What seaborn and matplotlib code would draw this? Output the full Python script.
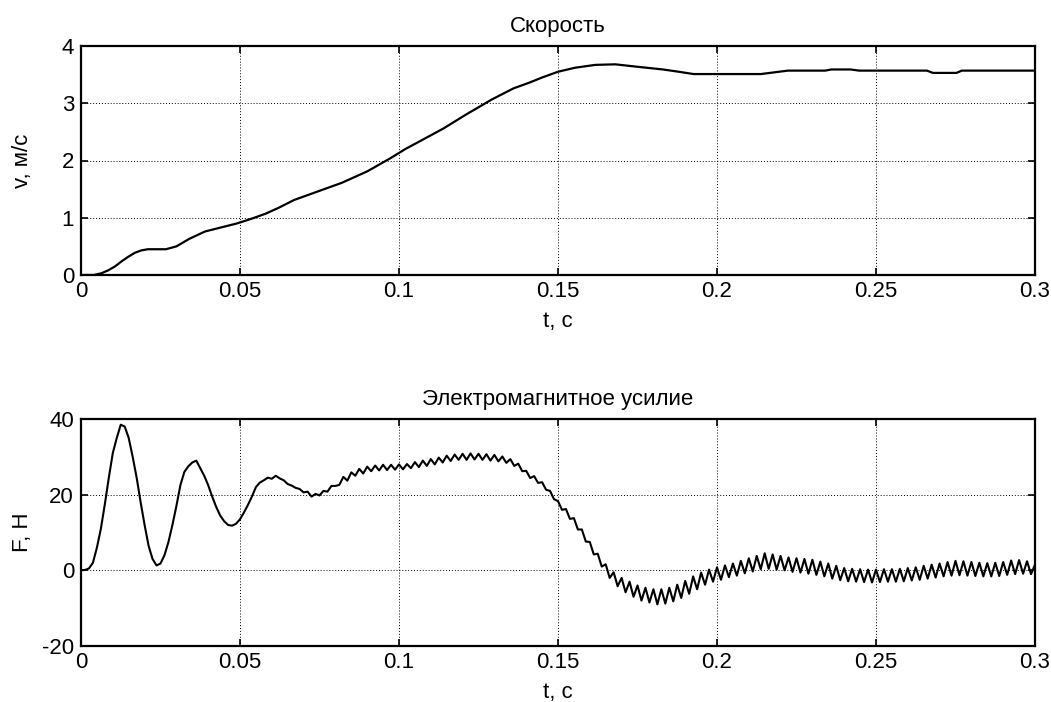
import numpy as np
import pandas as pd
import matplotlib
matplotlib.use("Agg")
import matplotlib.pyplot as plt
import seaborn as sns

# ---------------- data ----------------
t_speed = [0.000, 0.004, 0.0064, 0.0085, 0.0107, 0.0128, 0.0149, 0.017, 0.019, 0.021,
           0.0235, 0.0267, 0.030, 0.034, 0.039, 0.044, 0.049, 0.054, 0.058, 0.062,
           0.067, 0.074, 0.082, 0.090, 0.097, 0.102, 0.108, 0.114, 0.121, 0.129,
           0.136, 0.141, 0.145, 0.150, 0.1553, 0.1617, 0.168, 0.1745, 0.183, 0.188,
           0.1926, 0.200, 0.2138, 0.2223, 0.234, 0.236, 0.242, 0.2447, 0.266, 0.2679,
           0.2753, 0.277, 0.300]
v_speed = [0.00, 0.00, 0.03, 0.08, 0.15, 0.24, 0.32, 0.39, 0.43, 0.45,
           0.45, 0.45, 0.50, 0.63, 0.76, 0.83, 0.90, 0.99, 1.07, 1.17,
           1.31, 1.45, 1.61, 1.81, 2.03, 2.20, 2.38, 2.56, 2.80, 3.06,
           3.26, 3.36, 3.45, 3.55, 3.62, 3.67, 3.68, 3.64, 3.59, 3.55,
           3.51, 3.51, 3.51, 3.57, 3.57, 3.59, 3.59, 3.57, 3.57, 3.53,
           3.53, 3.57, 3.57]

t_step = 0.00125
F_force = [
    0, 0.1, 0.5, 2, 6, 11, 17.5, 24.5, 31, 35,
    38.5, 38, 35, 30, 24.5, 18, 12, 6.5, 3, 1.3,
    1.8, 4, 7.5, 12, 17, 22.5, 26, 27.5, 28.5, 29,
    27, 25, 22.5, 19.5, 16.8, 14.5, 13, 12, 11.8, 12.3,
    13.5, 15.3, 17.3, 19.5, 22, 23.2, 23.8, 24.5, 24.2, 25,
    24.3, 23.8, 22.8, 22.4, 21.8, 21.5, 20.6, 20.8, 19.5, 20.2,
    19.8, 21, 20.8, 22.3, 22.3, 22.6, 24.7, 23.7, 25.9, 25,
    26.8, 25.6, 27.4, 26.2, 27.7, 26.4, 27.9, 26.5, 27.9, 26.6,
    28, 26.7, 28.1, 27, 28.6, 27.3, 29, 27.6, 29.4, 28,
    29.8, 28.5, 30.3, 28.9, 30.6, 29.2, 30.8, 29.2, 30.9, 29.3,
    30.8, 29.2, 30.7, 29, 30.5, 28.8, 30.1, 28.4, 29.4, 27.6,
    28.2, 26.2, 26.3, 24.4, 24.9, 23.1, 23.3, 21.3, 21, 18.8,
    18.3, 16, 16.2, 13.6, 13.8, 10.8, 10.8, 7.6, 7.5, 4.2,
    4.4, 1, 1.6, -2, -0.5, -4.2, -2, -5.8, -3, -7,
    -4, -8, -4.6, -8.5, -5, -9, -5, -8.8, -4.6, -8.2,
    -3.8, -7.3, -2.8, -6.2, -1.6, -5, -0.6, -3.8, 0.2, -3,
    0.8, -2.5, 1.3, -1.8, 1.8, -1.4, 2.5, -0.8, 3.2, -0.3,
    3.8, 0.3, 4.5, 0.4, 4.2, 0.2, 3.8, 0, 3.4, -0.4,
    3.2, -0.6, 3, -0.9, 2.8, -1.2, 2.3, -1.6, 1.8, -2.2,
    1.2, -2.6, 0.6, -2.9, 0.4, -3, 0.3, -3.1, 0.2, -3.2,
    0.2, -3.1, 0.3, -3, 0.3, -3, 0.4, -2.9, 0.6, -2.7,
    0.8, -2.5, 1.2, -2.2, 1.5, -1.9, 1.8, -1.6, 2.2, -1.4,
    2.5, -1.3, 2.4, -1.4, 2.2, -1.5, 2, -1.6, 1.9, -1.6,
    2, -1.5, 2.2, -1.2, 2.6, -1, 2.7, -0.9, 2.4, -1,
    1.5,
]
t_force = np.arange(len(F_force)) * t_step

x_ticks = [0, 0.05, 0.1, 0.15, 0.2, 0.25, 0.3]
x_tick_labels = ["0", "0.05", "0.1", "0.15", "0.2", "0.25", "0.3"]
v_ticks = [0, 1, 2, 3, 4]
F_ticks = [-20, 0, 20, 40]

title_top = "Скорость"
title_bottom = "Электромагнитное усилие"
xlabel = "t, с"
ylabel_top = "v, м/с"
ylabel_bottom = "F, Н"

# ---------------- style ----------------
sns.set_theme(style="ticks")
plt.rcParams["font.family"] = ["Liberation Sans", "DejaVu Sans"]
plt.rcParams.update({
    "axes.edgecolor": "black",
    "axes.linewidth": 1.6,
    "xtick.direction": "in",
    "ytick.direction": "in",
    "xtick.top": True,
    "ytick.right": True,
    "xtick.major.size": 5,
    "ytick.major.size": 5,
    "xtick.major.width": 1.2,
    "ytick.major.width": 1.2,
    "xtick.color": "black",
    "ytick.color": "black",
    "text.color": "black",
    "axes.labelcolor": "black",
})

fig = plt.figure(figsize=(10.51, 7.02), dpi=100)
ax1 = fig.add_axes([81 / 1051, 1 - 275 / 702, 954 / 1051, 229 / 702])
ax2 = fig.add_axes([81 / 1051, 1 - 646 / 702, 954 / 1051, 227 / 702])

df_v = pd.DataFrame({"t": t_speed, "v": v_speed})
df_F = pd.DataFrame({"t": t_force, "F": F_force})

sns.lineplot(data=df_v, x="t", y="v", ax=ax1, color="black", linewidth=1.6)
sns.lineplot(data=df_F, x="t", y="F", ax=ax2, color="black", linewidth=1.5)

fs = 16
for ax, yt, ylim, title, ylab in [
    (ax1, v_ticks, (0, 4), title_top, ylabel_top),
    (ax2, F_ticks, (-20, 40), title_bottom, ylabel_bottom),
]:
    ax.set_xlim(0, 0.3)
    ax.set_ylim(*ylim)
    ax.set_xticks(x_ticks)
    ax.set_xticklabels(x_tick_labels, fontsize=fs)
    ax.set_yticks(yt)
    ax.set_yticklabels([str(v) for v in yt], fontsize=fs)
    ax.grid(True, color="black", linestyle=(0, (1, 2)), linewidth=0.7)
    ax.set_axisbelow(True)
    ax.set_title(title, fontsize=fs, pad=10)
    ax.set_xlabel(xlabel, fontsize=fs, labelpad=7)
    ax.set_ylabel(ylab, fontsize=fs)
    ax.yaxis.set_label_coords(-0.050, 0.5)
    ax.tick_params(axis="x", pad=4)
    ax.tick_params(axis="y", pad=5)
    for s in ax.spines.values():
        s.set_visible(True)
        s.set_color("black")

fig.savefig("out.png", dpi=100, facecolor="white")
